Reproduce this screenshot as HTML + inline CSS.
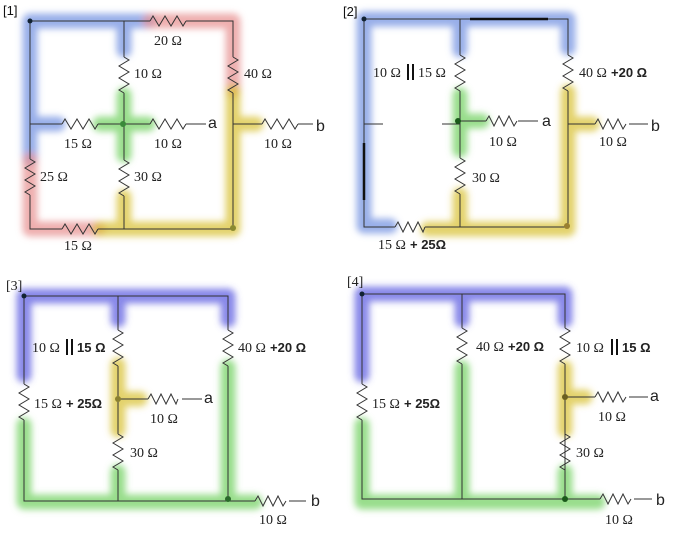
<!DOCTYPE html>
<html><head><meta charset="utf-8"><style>
html,body{margin:0;padding:0;background:#fff}
svg{display:block}
.w{fill:none;stroke:#333;stroke-width:1}
.hl{fill:none;stroke-width:15;stroke-linecap:round;stroke-linejoin:round;opacity:.72}
.s{font-family:"Liberation Serif",serif;font-size:14px;fill:#222}
.n{font-family:"Liberation Sans",sans-serif;font-size:16px;fill:#222}
.t{font-family:"Liberation Sans",sans-serif;font-size:13px;fill:#111}
.b{font-family:"Liberation Sans",sans-serif;font-size:13px;font-weight:bold;fill:#222}
</style></head><body>
<svg width="674" height="536" viewBox="0 0 674 536" xmlns="http://www.w3.org/2000/svg">
<defs><filter id="bl" x="-20%" y="-20%" width="140%" height="140%"><feGaussianBlur stdDeviation="3.5"/></filter></defs>

<!-- ===== Panel 1 highlights ===== -->
<g filter="url(#bl)">
<path class="hl" stroke="#7090e0" d="M30,158 V21 H148 M124,21 V50 M30,124 H58"/>
<path class="hl" stroke="#e89090" d="M150,21 H233 V90 M30,160 V229 H98"/>
<path class="hl" stroke="#70d060" d="M124,95 V155 M100,124 H148"/>
<path class="hl" stroke="#d8c030" d="M233,92 V229 H100 M124,197 V229 M233,124 H256"/>
</g>
<g class="w">
<path d="M30,21 H150 M186,21 H233 V57 M233,93 V229 H98 M62,229 H30 V195 M30,159 V21"/>
<path d="M150,21 l3,-5 l6,10 l6,-10 l6,10 l6,-10 l6,10 l3,-5"/>
<path d="M233,57 l5,3 l-10,6 l10,6 l-10,6 l10,6 l-10,6 l5,3"/>
<path d="M62,229 l3,-5 l6,10 l6,-10 l6,10 l6,-10 l6,10 l3,-5"/>
<path d="M30,159 l5,3 l-10,6 l10,6 l-10,6 l10,6 l-10,6 l5,3"/>
<path d="M124,21 V57 M124,93 V160 M124,196 V229"/>
<path d="M124,57 l5,3 l-10,6 l10,6 l-10,6 l10,6 l-10,6 l5,3"/>
<path d="M124,160 l5,3 l-10,6 l10,6 l-10,6 l10,6 l-10,6 l5,3"/>
<path d="M30,124 H62 M98,124 H150 M186,124 H206"/>
<path d="M62,124 l3,-5 l6,10 l6,-10 l6,10 l6,-10 l6,10 l3,-5"/>
<path d="M150,124 l3,-5 l6,10 l6,-10 l6,10 l6,-10 l6,10 l3,-5"/>
<path d="M233,124 H262 M298,124 H313"/>
<path d="M262,124 l3,-5 l6,10 l6,-10 l6,10 l6,-10 l6,10 l3,-5"/>
</g>
<circle cx="30" cy="21" r="2.5" fill="#123"/>
<circle cx="123" cy="124" r="3" fill="#3a8a3a"/>
<circle cx="233" cy="228" r="3" fill="#8a8a30"/>
<text class="t" x="3" y="15">[1]</text>
<text class="s" x="154" y="45">20 Ω</text>
<text class="s" x="134" y="78">10 Ω</text>
<text class="s" x="244" y="78">40 Ω</text>
<text class="s" x="64" y="148">15 Ω</text>
<text class="s" x="154" y="148">10 Ω</text>
<text class="n" x="208" y="128">a</text>
<text class="s" x="264" y="148">10 Ω</text>
<text class="n" x="316" y="131">b</text>
<text class="s" x="40" y="181">25 Ω</text>
<text class="s" x="134" y="181">30 Ω</text>
<text class="s" x="64" y="250">15 Ω</text>

<!-- ===== Panel 2 ===== -->
<g filter="url(#bl)">
<path class="hl" stroke="#7090e0" d="M364,200 V226 H390 M364,200 V19 H568 V48 M460,19 V50"/>
<path class="hl" stroke="#70d060" d="M460,95 V150 M460,121 H482"/>
<path class="hl" stroke="#d8c030" d="M568,92 V229 H428 M460,195 V229 M568,124 H592"/>
</g>
<g class="w">
<path d="M364,19 H568 V55 M568,91 V227 H425 M395,227 H364 V19"/>
<path d="M568,55 l5,3 l-10,6 l10,6 l-10,6 l10,6 l-10,6 l5,3"/>
<path d="M395,227 l3,-5 l5,10 l5,-10 l5,10 l5,-10 l5,10 l2,-5"/>
<path d="M460,19 V55 M460,91 V158 M460,194 V227"/>
<path d="M460,55 l5,3 l-10,6 l10,6 l-10,6 l10,6 l-10,6 l5,3"/>
<path d="M460,158 l5,3 l-10,6 l10,6 l-10,6 l10,6 l-10,6 l5,3"/>
<path d="M364,124 H383 M442,124 H460 M460,121 H486 M518,121 H538"/>
<path d="M486,121 l3,-5 l5,10 l5,-10 l5,10 l5,-10 l5,10 l3,-5"/>
<path d="M568,124 H595 M629,124 H648"/>
<path d="M595,124 l3,-5 l5,10 l5,-10 l5,10 l5,-10 l5,10 l3,-5"/>
</g>
<path d="M470,19 H548 M364,143 V200" stroke="#111" stroke-width="2.5"/>
<circle cx="364" cy="19" r="2.5" fill="#123"/>
<circle cx="458" cy="121" r="3" fill="#1a5a1a"/>
<circle cx="567" cy="226" r="3" fill="#9a8030"/>
<text class="t" x="343" y="16">[2]</text>
<text class="s" x="373" y="77">10 Ω</text><rect x="407" y="64" width="2" height="16" fill="#111"/><rect x="412" y="64" width="2" height="16" fill="#111"/><text class="s" x="418" y="77">15 Ω</text>
<text class="s" x="579" y="77">40 Ω</text><text class="b" x="611" y="77">+20 Ω</text>
<text class="s" x="489" y="146">10 Ω</text>
<text class="n" x="542" y="126">a</text>
<text class="s" x="599" y="146">10 Ω</text>
<text class="n" x="651" y="131">b</text>
<text class="s" x="472" y="182">30 Ω</text>
<text class="s" x="378" y="249">15 Ω</text><text class="b" x="410" y="249">+ 25Ω</text>

<!-- ===== Panel 3 ===== -->
<g filter="url(#bl)">
<path class="hl" stroke="#5a5ae0" d="M24,375 V296 H228 V320 M118,296 V320"/>
<path class="hl" stroke="#70d060" d="M24,425 V502 H255 M228,367 V502 M118,472 V502"/>
<path class="hl" stroke="#d8c030" d="M118,365 V430 M118,399 H140"/>
</g>
<g class="w">
<path d="M24,296 H228 V330 M228,366 V501 H24 V420 M24,384 V296"/>
<path d="M228,330 l5,3 l-10,6 l10,6 l-10,6 l10,6 l-10,6 l5,3"/>
<path d="M24,384 l5,3 l-10,6 l10,6 l-10,6 l10,6 l-10,6 l5,3"/>
<path d="M118,296 V330 M118,366 V434 M118,470 V501"/>
<path d="M118,330 l5,3 l-10,6 l10,6 l-10,6 l10,6 l-10,6 l5,3"/>
<path d="M118,434 l5,3 l-10,6 l10,6 l-10,6 l10,6 l-10,6 l5,3"/>
<path d="M118,399 H148 M182,399 H202"/>
<path d="M148,399 l3,-5 l5,10 l5,-10 l5,10 l5,-10 l5,10 l2,-5"/>
<path d="M228,501 H255 M289,501 H306"/>
<path d="M255,501 l3,-5 l5,10 l5,-10 l5,10 l5,-10 l5,10 l3,-5"/>
</g>
<circle cx="24" cy="296" r="2.5" fill="#123"/>
<circle cx="118" cy="399" r="3" fill="#8a8030"/>
<circle cx="228" cy="499" r="3" fill="#2a6a2a"/>
<text class="s" x="6" y="290">[3]</text>
<text class="s" x="32" y="352">10 Ω</text><rect x="66" y="339" width="2" height="16" fill="#111"/><rect x="71" y="339" width="2" height="16" fill="#111"/><text class="b" x="77" y="352">15 Ω</text>
<text class="s" x="238" y="352">40 Ω</text><text class="b" x="270" y="352">+20 Ω</text>
<text class="s" x="34" y="408">15 Ω</text><text class="b" x="66" y="408">+ 25Ω</text>
<text class="s" x="150" y="423">10 Ω</text>
<text class="n" x="204" y="403">a</text>
<text class="s" x="130" y="457">30 Ω</text>
<text class="s" x="259" y="524">10 Ω</text>
<text class="n" x="311" y="506">b</text>

<!-- ===== Panel 4 ===== -->
<g filter="url(#bl)">
<path class="hl" stroke="#5a5ae0" d="M362,375 V294 H565 V320 M462,294 V320"/>
<path class="hl" stroke="#70d060" d="M362,425 V502 H598 M462,368 V502 M565,472 V502"/>
<path class="hl" stroke="#d8c030" d="M565,368 V430 M565,397 H585"/>
</g>
<g class="w">
<path d="M362,294 H565 V328 M565,364 V499 H362 V420 M362,384 V294"/>
<path d="M565,328 l5,3 l-10,6 l10,6 l-10,6 l10,6 l-10,6 l5,3"/>
<path d="M565,434 l5,3 l-10,6 l10,6 l-10,6 l10,6 l-10,6 l5,3"/>
<path d="M362,384 l5,3 l-10,6 l10,6 l-10,6 l10,6 l-10,6 l5,3"/>
<path d="M462,294 V328 M462,364 V499"/>
<path d="M462,328 l5,3 l-10,6 l10,6 l-10,6 l10,6 l-10,6 l5,3"/>
<path d="M565,397 H595 M629,397 H648"/>
<path d="M595,397 l3,-5 l5,10 l5,-10 l5,10 l5,-10 l5,10 l3,-5"/>
<path d="M565,499 H600 M634,499 H652"/>
<path d="M600,499 l3,-5 l5,10 l5,-10 l5,10 l5,-10 l5,10 l3,-5"/>
</g>
<circle cx="362" cy="294" r="2.5" fill="#123"/>
<circle cx="565" cy="397" r="3" fill="#6a6020"/>
<circle cx="565" cy="499" r="3" fill="#1a5a1a"/>
<text class="s" x="347" y="286">[4]</text>
<text class="s" x="476" y="351">40 Ω</text><text class="b" x="508" y="351">+20 Ω</text>
<text class="s" x="576" y="352">10 Ω</text><rect x="611" y="339" width="2" height="16" fill="#111"/><rect x="616" y="339" width="2" height="16" fill="#111"/><text class="b" x="622" y="352">15 Ω</text>
<text class="s" x="372" y="408">15 Ω</text><text class="b" x="404" y="408">+ 25Ω</text>
<text class="s" x="598" y="421">10 Ω</text>
<text class="n" x="650" y="401">a</text>
<text class="s" x="576" y="457">30 Ω</text>
<text class="s" x="605" y="524">10 Ω</text>
<text class="n" x="656" y="505">b</text>
</svg>
</body></html>
